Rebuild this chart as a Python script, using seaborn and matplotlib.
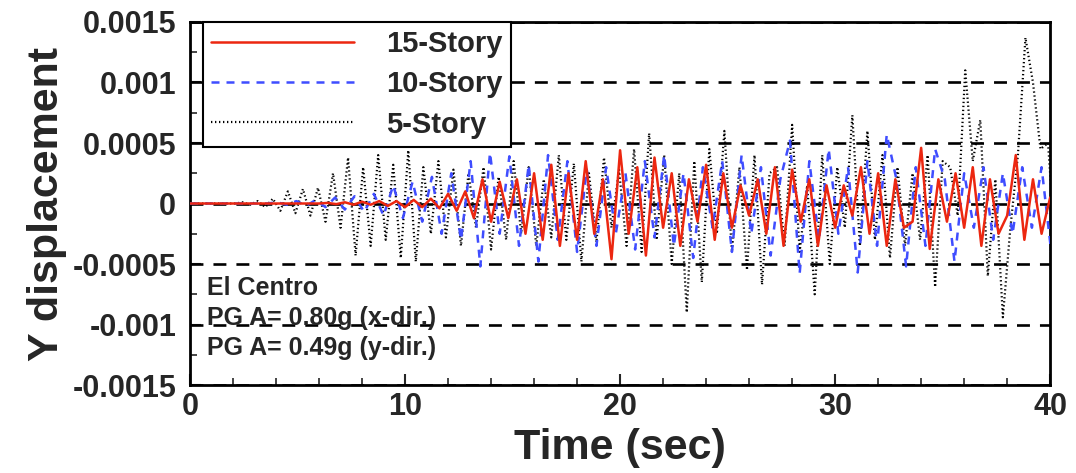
import numpy as np
import pandas as pd
import matplotlib
matplotlib.use("Agg")
import matplotlib.pyplot as plt
from matplotlib.ticker import MultipleLocator, FuncFormatter
import seaborn as sns

# Roof displacement histories (units of 1e-4), El Centro record
DT_5 = 0.35
story5 = [0, 0, 0, 0, 0, 0, 0, 0.1, -0.1, 0.2, -0.3, 0.4, -0.6, 1.0, -0.8, 1.2,
          -1.0, 1.3, -1.5, 2.5, -2.0, 3.8, -4.3, 3.0, -3.5, 4.0, -3.0, 3.2, -4.5, 4.4,
          -4.8, 3.0, -2.5, 3.5, -2.8, 2.8, -3.5, 2.5, -2.0, 3.0, -3.8, 2.2, -3.0, 3.5,
          -2.5, 3.0, -3.5, 2.0, -2.8, 4.0, -3.0, 3.3, -4.8, 2.5, -3.2, 3.8, -2.0, 2.8,
          -3.5, 4.5, -4.0, 5.8, -3.0, 4.0, -5.0, 2.5, -9.0, 3.5, -6.5, 4.5, -2.5, 6.0,
          -4.0, 3.0, -5.5, 4.0, -6.7, 2.5, 3.0, -3.5, 6.5, -4.0, 1.5, -7.5, 4.0, -5.0,
          3.0, -2.0, 7.3, -3.5, 6.0, -3.0, 4.0, -4.5, 3.0, -3.5, 2.5, -3.0, 4.0, -6.9,
          3.5, 3.0, -1.0, 11.0, 3.5, 6.9, -6.0, 2.0, -9.4, -2.0, 4.0, 13.7, 10.0, 4.5,
          5.0, -4.0]

DT_10 = 0.45
story10 = [0, 0, 0, 0, 0, 0, 0, 0, 0, 0.1, -0.1, 0.2, -0.2, 0.3, -0.3, 0.5, -0.5,
           0.6, -0.7, 0.8, -1.0, 1.5, -1.2, 1.8, -1.5, 2.2, -2.5, 2.5, -3.0, 3.5, -5.2,
           4.2, -2.5, 3.9, -3.5, 3.2, -4.8, 4.0, -3.0, 3.5, -4.0, 2.8, -3.5, 3.0, -2.5,
           2.5, -3.8, 3.5, -2.8, 4.0, -3.5, 2.5, -4.5, 3.0, -2.0, 3.5, -4.0, 4.0, -2.5,
           3.0, -4.3, 2.0, 5.2, -5.8, 3.5, -3.0, 4.5, -2.5, 3.0, -5.7, 3.5, -3.5, 5.7,
           2.0, -5.2, 3.0, -3.5, 4.5, 2.0, -4.8, 2.5, -2.0, 3.0, -3.0, 2.5, -2.5, 3.0,
           -2.0, 3.0, -4.0]

DT_15 = 0.40
story15 = [0, 0, 0, 0, 0, 0, 0, 0, 0, 0, 0, 0, 0, 0, 0, 0, 0.05, -0.05, 0.1, -0.1,
           0.15, -0.1, 0.2, -0.2, 0.2, -0.3, 0.3, -0.3, 0.4, -0.4, 0.8, -0.6, 1.0, -1.2,
           2.0, -1.5, 1.8, -1.2, 2.0, -2.5, 2.5, -3.0, 3.2, -3.5, 2.5, -3.0, 3.5, -2.5,
           2.0, -4.6, 4.4, -2.5, 3.0, -4.3, 3.8, -2.0, 2.5, -3.5, 2.0, -1.5, 3.2, -3.0,
           2.5, -2.0, 1.5, -1.0, 2.0, -2.5, 3.0, -3.5, 2.8, -1.5, 2.0, -3.5, 1.5, -2.0,
           1.5, -1.0, 3.0, -2.5, 2.5, -3.5, 2.0, -2.0, -1.5, 4.6, -3.75, 2.0, -1.5, 2.5,
           -2.0, 3.0, -3.5, 2.0, -2.5, -1.0, 4.0, -3.0, 2.0, -2.5, 0.5]

labels = ["15-Story", "10-Story", "5-Story"]
y_ticks = [-0.0015, -0.001, -0.0005, 0, 0.0005, 0.001, 0.0015]
x_ticks = [0, 10, 20, 30, 40]
note_lines = ["El Centro", "PG A= 0.80g (x-dir.)", "PG A= 0.49g (y-dir.)"]


def frame(values, dt):
    vals = np.asarray(values) * 1e-4
    return pd.DataFrame({"t": np.arange(len(vals)) * dt, "d": vals})


sns.set_style("ticks")
plt.rcParams["font.family"] = ["Liberation Sans", "DejaVu Sans"]
plt.rcParams["font.weight"] = "bold"

fig = plt.figure(figsize=(10.76, 4.73), dpi=100)
ax = fig.add_axes([0.1766, 0.186, 0.7994, 0.7675])

# horizontal dashed reference lines
for yv in y_ticks:
    ax.axhline(yv, color="black", lw=1.9, dashes=(4.9, 3.8), zorder=1)

sns.lineplot(data=frame(story5, DT_5), x="t", y="d", ax=ax, color="black",
             lw=1.6, linestyle=(0, (0.6, 1.2)), zorder=2)
sns.lineplot(data=frame(story10, DT_10), x="t", y="d", ax=ax, color="#3f4dff",
             lw=1.8, linestyle=(0, (3.2, 2.8)), zorder=3)
sns.lineplot(data=frame(story15, DT_15), x="t", y="d", ax=ax, color="#ec2710",
             lw=1.8, linestyle="-", zorder=4)
lines = ax.get_lines()
l5, l10, l15 = lines[-3], lines[-2], lines[-1]

ax.set_xlim(0, 40)
ax.set_ylim(-0.0015, 0.0015)
ax.set_xticks(x_ticks)
ax.set_yticks(y_ticks)
ax.xaxis.set_minor_locator(MultipleLocator(2))
ax.yaxis.set_minor_locator(MultipleLocator(0.00025))
ax.yaxis.set_major_formatter(FuncFormatter(lambda v, p: "0" if abs(v) < 1e-12 else "%g" % v))
ax.tick_params(axis="both", which="major", direction="in", length=8, width=1.5,
               labelsize=22, right=False, top=False)
ax.tick_params(axis="both", which="minor", direction="in", length=5, width=1.2,
               right=False, top=False)
ax.tick_params(axis="y", pad=10)
ax.tick_params(axis="x", pad=5)
for lab in ax.get_xticklabels() + ax.get_yticklabels():
    lab.set_fontweight("bold")
for sp in ax.spines.values():
    sp.set_visible(True)
    sp.set_linewidth(2)
    sp.set_color("black")

ax.set_xlabel("Time (sec)", fontsize=31, fontweight="bold", labelpad=4)
ax.set_ylabel("Y displacement", fontsize=31, fontweight="bold", labelpad=4)

leg = ax.legend([l15, l10, l5], labels, loc="upper left",
                bbox_to_anchor=(0.015, 1.0), frameon=True, fancybox=False,
                handlelength=4.9, handletextpad=1.1, borderpad=0.28,
                borderaxespad=0, labelspacing=0.42, prop={"size": 21, "weight": "bold"})
leg.get_frame().set_edgecolor("black")
leg.get_frame().set_linewidth(1.5)
leg.get_frame().set_alpha(1)
leg.set_zorder(10)

for i, txt in enumerate(note_lines):
    ax.text(0.02, 0.268 - i * 0.083, txt, transform=ax.transAxes, fontsize=18,
            fontweight="bold", va="center", ha="left", zorder=6)

fig.savefig("out.png", dpi=100)
